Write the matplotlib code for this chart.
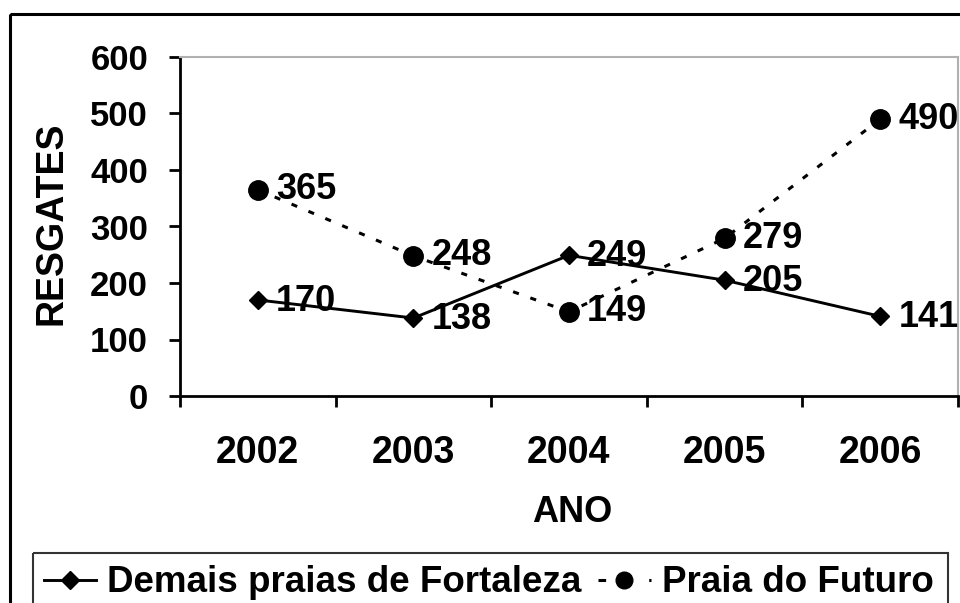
import matplotlib
matplotlib.use("Agg")
import matplotlib.pyplot as plt
from matplotlib.lines import Line2D
from matplotlib.patches import Rectangle
from matplotlib.ticker import FixedLocator, NullFormatter

plt.rcParams['font.family'] = ['Liberation Sans', 'DejaVu Sans']
plt.rcParams['font.weight'] = 'bold'

anos = ['2002', '2003', '2004', '2005', '2006']
demais_praias = [170, 138, 249, 205, 141]
praia_futuro = [365, 248, 149, 279, 490]
y_ticks = [0, 100, 200, 300, 400, 500, 600]

W, H = 960, 603
fig = plt.figure(figsize=(W / 100, H / 100), dpi=100)

# outer chart frame (runs past the right and bottom edges)
fig.patches.append(Rectangle((10 / W, 1 - 14 / H), 1.2, -1.2,
                             transform=fig.transFigure, fill=False,
                             edgecolor='black', linewidth=2.2))

ax = fig.add_axes([180 / W, 1 - 396 / H, (958 - 180) / W, (396 - 57) / H])
x = list(range(len(anos)))

l1, = ax.plot(x, demais_praias, color='black', linewidth=2.1,
              marker='D', markersize=9, label='Demais praias de Fortaleza',
              clip_on=False, zorder=3)
l2, = ax.plot(x, praia_futuro, color='black', linewidth=2.2,
              linestyle=(0, (2, 4)), marker='o', markersize=14,
              label='Praia do Futuro', clip_on=False, zorder=3)

for xi, v in zip(x, demais_praias):
    ax.annotate(str(v), (xi, v), xytext=(13, -1), textcoords='offset points',
                ha='left', va='center', fontsize=26, fontweight='bold',
                annotation_clip=False)
for xi, v in zip(x, praia_futuro):
    ax.annotate(str(v), (xi, v), xytext=(13, 0), textcoords='offset points',
                ha='left', va='center', fontsize=26, fontweight='bold',
                annotation_clip=False)

ax.set_xlim(-0.5, len(anos) - 0.5)
ax.set_ylim(0, 600)
ax.set_yticks(y_ticks)
ax.set_yticklabels([str(t) for t in y_ticks], fontsize=25, fontweight='bold')

# category boundaries get the tick marks, the centres carry the labels
ax.xaxis.set_major_locator(FixedLocator([i - 0.5 for i in range(len(anos) + 1)]))
ax.xaxis.set_major_formatter(NullFormatter())
ax.xaxis.set_minor_locator(FixedLocator(x))
ax.set_xticklabels(anos, minor=True, fontsize=27, fontweight='bold')
ax.tick_params(axis='x', which='major', direction='out', length=8, width=2)
ax.tick_params(axis='x', which='minor', length=0, pad=28)
ax.tick_params(axis='y', direction='out', length=8, width=2, pad=15)

for s in ('left', 'bottom'):
    ax.spines[s].set_linewidth(2)
    ax.spines[s].set_color('black')
for s in ('top', 'right'):
    ax.spines[s].set_linewidth(1.5)
    ax.spines[s].set_color('#b0b0b0')

fig.text(572 / W, 1 - 513 / H, 'ANO', ha='center', va='center',
         fontsize=26, fontweight='bold')
fig.text(52 / W, 1 - 223 / H, 'RESGATES', ha='center', va='center',
         rotation=90, fontsize=27, fontweight='bold')

# legend box (open at the bottom edge of the image)
fig.patches.append(Rectangle((33 / W, 1 - 553 / H), (948 - 33) / W, -0.2,
                             transform=fig.transFigure, fill=False,
                             edgecolor='#333333', linewidth=1.5))
h1 = Line2D([], [], color='black', linewidth=2.1, marker='D', markersize=9)
h2 = Line2D([], [], color='black', linewidth=2.2, linestyle=(0, (2.5, 5.8)),
            marker='o', markersize=12)
leg = fig.legend(handles=[h1, h2], labels=[l1.get_label(), l2.get_label()],
                 loc='center left', ncol=2,
                 bbox_to_anchor=(44 / W, 1 - 583 / H), frameon=False,
                 prop={'size': 26.5, 'weight': 'bold'}, handlelength=1.42,
                 handletextpad=0.3, columnspacing=0.45, borderpad=0,
                 borderaxespad=0)

fig.savefig('out.png', dpi=100)
